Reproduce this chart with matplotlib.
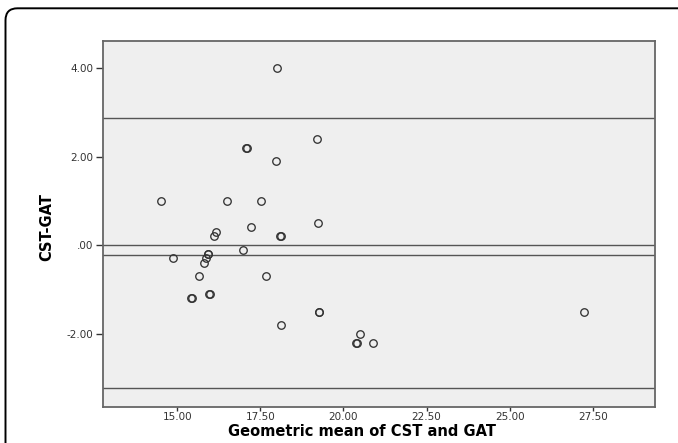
import matplotlib
matplotlib.use('Agg')
import matplotlib.pyplot as plt
from matplotlib.patches import FancyBboxPatch
from matplotlib.transforms import IdentityTransform

# geometric mean of CST and GAT (x) vs difference CST-GAT (y)
geo_mean = [14.52, 14.88, 15.42, 15.44, 15.66, 15.81, 15.87, 15.92, 15.94,
            15.97, 15.99, 16.11, 16.17, 16.51, 16.97, 17.08, 17.11, 17.21,
            17.51, 17.66, 17.97, 18.01, 18.08, 18.11, 18.11, 19.22, 19.25,
            19.26, 19.28, 20.38, 20.41, 20.51, 20.89, 27.23]
diff = [1.0, -0.3, -1.2, -1.2, -0.7, -0.4, -0.3, -0.2, -0.2,
        -1.1, -1.1, 0.2, 0.3, 1.0, -0.1, 2.2, 2.2, 0.4,
        1.0, -0.7, 1.9, 4.0, 0.2, 0.2, -1.8, 2.4, 0.5,
        -1.5, -1.5, -2.2, -2.2, -2.0, -2.2, -1.5]

ref_lines = [2.88, 0.0, -0.23, -3.22]  # upper LoA, zero, mean, lower LoA
x_ticks = [15.0, 17.5, 20.0, 22.5, 25.0, 27.5]
y_ticks = [-2.0, 0.0, 2.0, 4.0]
y_tick_labels = ['-2.00', '.00', '2.00', '4.00']

fig = plt.figure(figsize=(6.78, 4.43), dpi=100)
ax = fig.add_axes([103 / 678, 36.3 / 443, 552 / 678, 366 / 443])
ax.set_facecolor('#efefef')

for y in ref_lines:
    ax.axhline(y, color='#555555', lw=1.0, zorder=1)

ax.plot(geo_mean, diff, 'o', markersize=5.4, markerfacecolor='none',
        markeredgecolor='#333333', markeredgewidth=0.95, zorder=3)

ax.set_xlim(12.77, 29.37)
ax.set_ylim(-3.65, 4.62)
ax.set_xticks(x_ticks)
ax.set_xticklabels([f'{t:.2f}' for t in x_ticks])
ax.set_yticks(y_ticks)
ax.set_yticklabels(y_tick_labels)
ax.tick_params(labelsize=7.5, colors='#333333', width=1.0)
ax.tick_params(axis='x', length=3, pad=1)
ax.tick_params(axis='y', length=5, pad=2)

for s in ax.spines.values():
    s.set_color('#666666')
    s.set_linewidth(1.3)

ax.set_xlabel('Geometric mean of CST and GAT', fontsize=10.5,
              fontweight='bold', va='center')
ax.xaxis.set_label_coords((362 - 103) / 552, (406.7 - 432) / 366)
ax.set_ylabel('CST-GAT', fontsize=10.5, fontweight='bold', va='center')
ax.yaxis.set_label_coords((47 - 103) / 552, 0.49)

# rounded frame around the figure (runs off the right and bottom edges)
frame = FancyBboxPatch((5.5, -30), 700, 434.7 + 30,
                       boxstyle='round,pad=0,rounding_size=12',
                       transform=IdentityTransform(), fill=False,
                       edgecolor='black', linewidth=1.4)
fig.patches.append(frame)

fig.savefig('out.png', dpi=100)
